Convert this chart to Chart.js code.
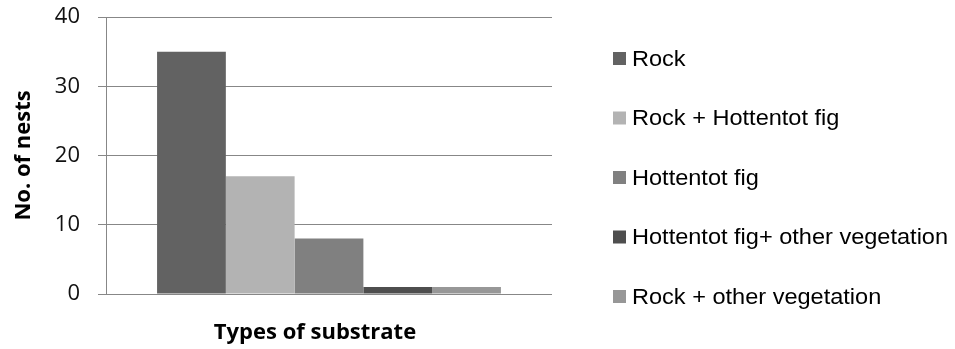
<!DOCTYPE html>
<html>
<head>
<meta charset="utf-8">
<script src="https://cdn.jsdelivr.net/npm/chart.js@4/dist/chart.umd.min.js"></script>
<style>
  html, body { margin: 0; padding: 0; background: #ffffff; }
  #wrap { width: 955px; height: 349px; }
</style>
</head>
<body>
<div id="wrap"><canvas id="c" width="955" height="349"></canvas></div>
<script>
// Nest counts by substrate type
const categories = [''];
const seriesLabels = [
  'Rock',
  'Rock + Hottentot fig',
  'Hottentot fig',
  'Hottentot fig+ other vegetation',
  'Rock + other vegetation'
];
const rock = [35];
const rockHottentot = [17];
const hottentot = [8];
const hottentotOther = [1];
const rockOther = [1];
const yTicks = [0, 10, 20, 30, 40];
const xTitle = 'Types of substrate';
const yTitle = 'No. of nests';

const seriesValues = [rock, rockHottentot, hottentot, hottentotOther, rockOther];
const seriesColors = ['#626262', '#b3b3b3', '#808080', '#4e4e4e', '#979797'];
const axisFont = 'Open Sans, Lato, sans-serif';

// Legend at the right of the plot, one row per dataset
const sideLegend = {
  id: 'sideLegend',
  afterDraw(chart) {
    const ctx = chart.ctx;
    const area = chart.chartArea;
    const x0 = area.right + 61;
    const firstY = 58.5;
    const step = 59.5;
    ctx.save();
    ctx.font = '22px "Liberation Sans", Arial, sans-serif';
    ctx.textBaseline = 'middle';
    ctx.textAlign = 'left';
    chart.data.datasets.forEach((ds, i) => {
      const cy = firstY + i * step;
      ctx.fillStyle = ds.backgroundColor;
      ctx.fillRect(x0, cy - 6.5, 13, 13);
      ctx.fillStyle = '#000000';
      ctx.save();
      ctx.translate(x0 + 19, cy + 1);
      ctx.scale(1.07, 1);
      ctx.fillText(ds.label, 0, 0);
      ctx.restore();
    });
    ctx.restore();
  }
};

// Category axis title, set slightly left of the plot centre
const bottomTitle = {
  id: 'bottomTitle',
  afterDraw(chart) {
    const ctx = chart.ctx;
    const area = chart.chartArea;
    ctx.save();
    ctx.font = 'bold 22px ' + axisFont;
    ctx.fillStyle = '#000000';
    ctx.textAlign = 'center';
    ctx.textBaseline = 'middle';
    ctx.fillText(xTitle, (area.left + area.right) / 2 - 14, 333);
    ctx.restore();
  }
};

new Chart(document.getElementById('c'), {
  type: 'bar',
  data: {
    labels: categories,
    datasets: seriesLabels.map((label, i) => ({
      label: label,
      data: seriesValues[i],
      backgroundColor: seriesColors[i],
      borderWidth: 0,
      categoryPercentage: 0.771,
      barPercentage: 1.0
    }))
  },
  options: {
    responsive: false,
    animation: false,
    layout: { padding: { top: 17, right: 403, bottom: 0, left: 0 } },
    plugins: {
      legend: { display: false },
      tooltip: { enabled: false }
    },
    scales: {
      x: {
        grid: { display: false },
        border: { display: false },
        ticks: { display: false },
        title: { display: false },
        afterFit(scale) { scale.height = 55; }
      },
      y: {
        min: 0,
        max: 40,
        afterBuildTicks(scale) { scale.ticks = yTicks.map(v => ({ value: v })); },
        grid: { color: '#878787', lineWidth: 1, tickLength: 8, drawTicks: true },
        border: { display: true, color: '#878787', width: 1 },
        ticks: {
          color: '#111111',
          padding: 18,
          font: { family: axisFont, size: 22 }
        },
        title: {
          display: true,
          text: yTitle,
          color: '#000000',
          font: { family: axisFont, size: 22, weight: 'bold' },
          padding: { top: 11, bottom: 0 }
        },
        afterFit(scale) {
          scale.width = 106;
          scale.paddingTop = 0;
          scale.paddingBottom = 0;
        }
      }
    }
  },
  plugins: [sideLegend, bottomTitle]
});
</script>
</body>
</html>
